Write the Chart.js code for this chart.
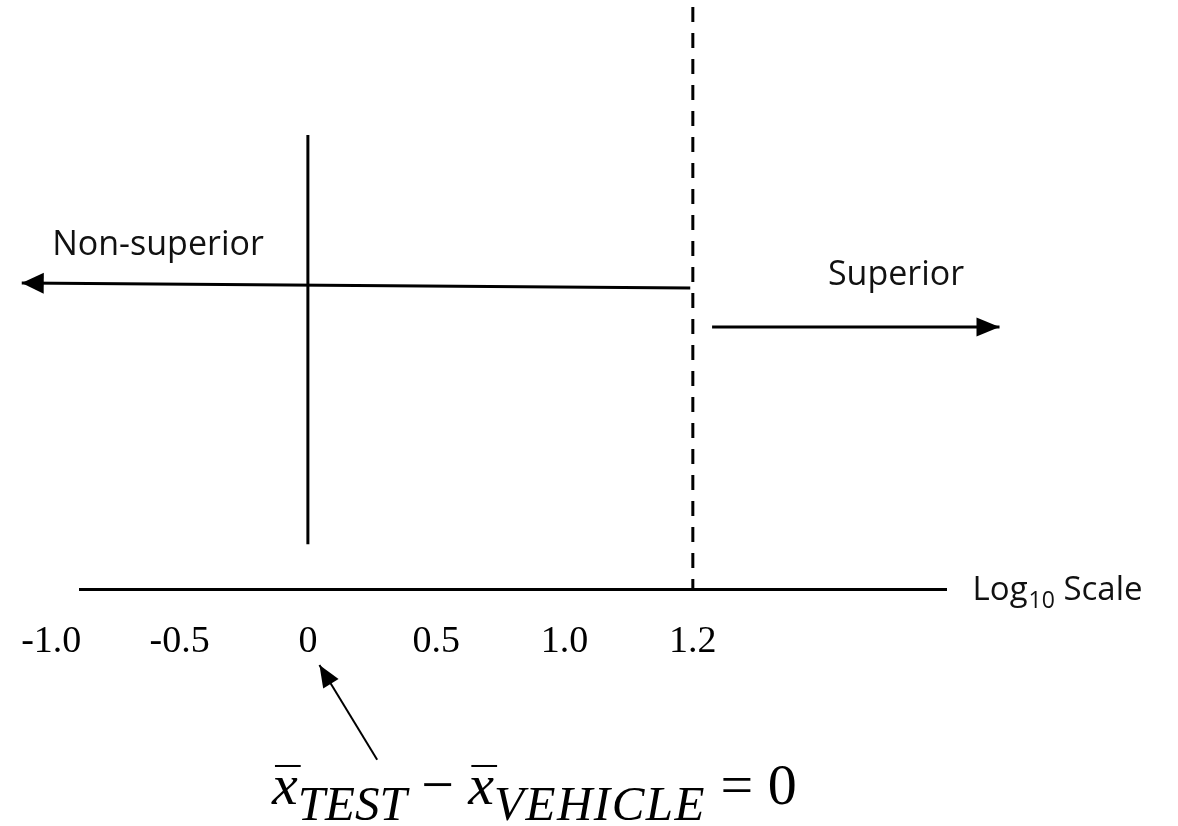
<!DOCTYPE html>
<html><head><meta charset="utf-8">
<script src="https://cdn.jsdelivr.net/npm/chart.js@4.4.0/dist/chart.umd.min.js"></script>
<style>html,body{margin:0;padding:0;background:#fff;overflow:hidden}</style>
</head><body>
<canvas id="c" width="1178" height="826"></canvas>
<script>
// ---- data (schematic: x in tick-slot units, y in 0-100 units) ----
const tickLabels = ['-1.0', '-0.5', '0', '0.5', '1.0', '1.2'];
const zeroLabel = '0';
const thresholdLabel = '1.2';
const axisTitleParts = ['Log', '10', ' Scale'];
const leftRegionLabel = 'Non-superior';
const rightRegionLabel = 'Superior';
const formulaParts = ['x', 'TEST', ' \u2212 ', 'x', 'VEHICLE', ' = 0'];

const zeroLineY = [7.6, 77.1];
const thresholdLineY = [100, 0];
const nonSuperiorArrowX = [4.98, -0.23];
const nonSuperiorArrowY = [51.1, 51.95];
const superiorArrowX = [5.15, 7.39];
const superiorArrowY = [44.5, 44.5];
const pointerArrowX = [2.54, 2.09];
const pointerArrowY = [-29.0, -12.9];

const xRange = [0.224, 6.973];
const yRange = [0, 100];

// ---- build datasets ----
const zeroIdx = tickLabels.indexOf(zeroLabel);
const thrIdx = tickLabels.indexOf(thresholdLabel);
const pts = (xs, ys) => xs.map((x, i) => ({x, y: ys[i]}));
const base = {borderColor: '#000', pointRadius: 0, tension: 0, clip: false, fill: false};

const datasets = [
  Object.assign({}, base, {data: pts([zeroIdx, zeroIdx], zeroLineY), borderWidth: 3}),
  Object.assign({}, base, {data: pts([thrIdx, thrIdx], thresholdLineY), borderWidth: 3, borderDash: [15, 11], borderDashOffset: 19}),
  Object.assign({}, base, {data: pts(nonSuperiorArrowX, nonSuperiorArrowY), borderWidth: 3, arrowHead: {len: 22, half: 10.5}}),
  Object.assign({}, base, {data: pts(superiorArrowX, superiorArrowY), borderWidth: 3, arrowHead: {len: 23, half: 9.5}}),
  Object.assign({}, base, {data: pts(pointerArrowX, pointerArrowY), borderWidth: 2, arrowHead: {len: 22, half: 9}})
];

// label anchors in axis units
const anchors = {
  left: {x: 0.832, y: 56.7},
  right: {x: 6.584, y: 51.6},
  axisTitle: {x: 7.18, y: -1.87},
  formula: {x: 1.72, y: -36.5}
};

const arrowPlugin = {
  id: 'arrowHeads',
  afterDatasetsDraw(chart) {
    const ctx = chart.ctx;
    chart.data.datasets.forEach((ds, i) => {
      if (!ds.arrowHead) return;
      const el = chart.getDatasetMeta(i).data;
      const a = el[el.length - 2], b = el[el.length - 1];
      const ang = Math.atan2(b.y - a.y, b.x - a.x);
      const {len, half} = ds.arrowHead;
      ctx.save();
      ctx.translate(b.x, b.y);
      ctx.rotate(ang);
      ctx.beginPath();
      ctx.moveTo(0, 0);
      ctx.lineTo(-len, -half);
      ctx.lineTo(-len, half);
      ctx.closePath();
      ctx.fillStyle = '#000';
      ctx.fill();
      ctx.restore();
    });
  }
};

const textPlugin = {
  id: 'texts',
  afterDraw(chart) {
    const ctx = chart.ctx, xs = chart.scales.x, ys = chart.scales.y;
    const P = a => [xs.getPixelForValue(a.x), ys.getPixelForValue(a.y)];
    ctx.save();
    ctx.fillStyle = '#111';
    ctx.textBaseline = 'alphabetic';
    ctx.font = '34px "Open Sans"';
    ctx.textAlign = 'center';
    let [px, py] = P(anchors.left);
    ctx.fillText(leftRegionLabel, px, py);
    [px, py] = P(anchors.right);
    ctx.fillText(rightRegionLabel, px, py);

    // axis title with subscript
    ctx.textAlign = 'left';
    [px, py] = P(anchors.axisTitle);
    ctx.font = '33px "Open Sans"';
    ctx.fillText(axisTitleParts[0], px, py);
    px += ctx.measureText(axisTitleParts[0]).width + 1;
    ctx.font = '23px "Open Sans"';
    ctx.fillText(axisTitleParts[1], px, py + 8);
    px += ctx.measureText(axisTitleParts[1]).width;
    ctx.font = '33px "Open Sans"';
    ctx.fillText(axisTitleParts[2], px, py);

    // formula
    ctx.fillStyle = '#000';
    [px, py] = P(anchors.formula);
    const mainI = 'italic 58px "Liberation Serif"';
    const subI = 'italic 49px "Liberation Serif"';
    const up = '58px "Liberation Serif"';
    const styles = [
      {f: mainI, dy: 0, bar: true}, {f: subI, dy: 16, ls: 0}, {f: up, dy: 0},
      {f: mainI, dy: 0, bar: true}, {f: subI, dy: 16, ls: 1.5}, {f: up, dy: 0}
    ];
    formulaParts.forEach((t, i) => {
      const s = styles[i];
      ctx.font = s.f;
      ctx.letterSpacing = (s.ls || 0) + 'px';
      ctx.fillText(t, px, py + s.dy);
      const w = ctx.measureText(t).width;
      if (s.bar) {
        ctx.fillRect(px + 3, py - 39, w, 2);
      }
      px += w;
    });
    ctx.letterSpacing = '0px';
    ctx.restore();
  }
};

new Chart(document.getElementById('c'), {
  type: 'line',
  data: {datasets},
  options: {
    responsive: false,
    animation: false,
    events: [],
    layout: {padding: {left: 80, right: 232, top: 0, bottom: 0}},
    plugins: {legend: {display: false}, tooltip: {enabled: false}},
    scales: {
      x: {
        type: 'linear',
        min: xRange[0], max: xRange[1],
        afterBuildTicks: s => { s.ticks = tickLabels.map((_, i) => ({value: i})); },
        afterFit: s => { s.height = 237; s.paddingLeft = 0; s.paddingRight = 0; },
        ticks: {
          callback: (v, i) => tickLabels[i],
          autoSkip: false, maxRotation: 0,
          padding: 30, color: '#000',
          font: {family: '"Liberation Serif"', size: 38}
        },
        grid: {display: false, drawTicks: false},
        border: {display: true, color: '#000', width: 3}
      },
      y: {type: 'linear', min: yRange[0], max: yRange[1], display: false}
    }
  },
  plugins: [arrowPlugin, textPlugin]
});
</script>
</body></html>
